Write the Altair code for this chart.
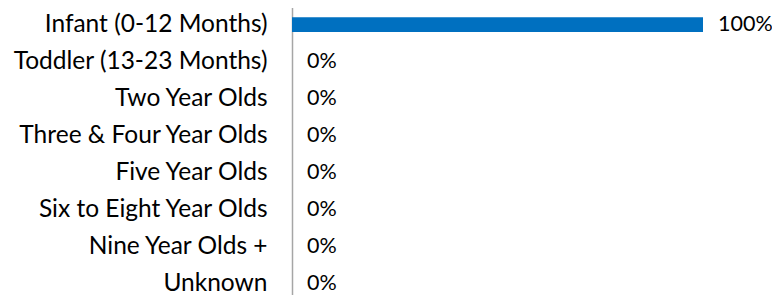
import altair as alt
import pandas as pd

categories = ["Infant (0-12 Months)", "Toddler (13-23 Months)", "Two Year Olds",
              "Three & Four Year Olds", "Five Year Olds", "Six to Eight Year Olds",
              "Nine Year Olds +", "Unknown"]
values = [1.0, 0, 0, 0, 0, 0, 0, 0]

df = pd.DataFrame({"cat": categories, "val": values})

FONT = "Lato"
y = alt.Y("cat:N", sort=categories, title=None,
          scale=alt.Scale(range=[-2, 295], paddingInner=0.6, paddingOuter=0.3),
          axis=alt.Axis(ticks=False, labelFontSize=24.5, labelFont=FONT, labelColor="#000000",
                        labelPadding=25, domainColor="#a6a6a6", domainWidth=1.5,
                        labelLimit=400))
x = alt.X("val:Q", title=None, scale=alt.Scale(domain=[0, 1]), axis=None)

bars = alt.Chart(df).mark_bar(color="#0070C0").encode(x=x, y=y)
text = alt.Chart(df).mark_text(align="left", baseline="middle", dx=15, fontSize=21.5,
                               font=FONT, color="#000000").encode(
    x=x, y=y, text=alt.Text("val:Q", format=".0%"))

chart = (bars + text).properties(
    width=411, height=287,
    autosize=alt.AutoSizeParams(type="none"),
    padding={"left": 284, "top": 0, "right": 69, "bottom": 0},
).configure_view(stroke=None)

chart.save("out.html", embed_options={"renderer": "svg", "actions": False})
